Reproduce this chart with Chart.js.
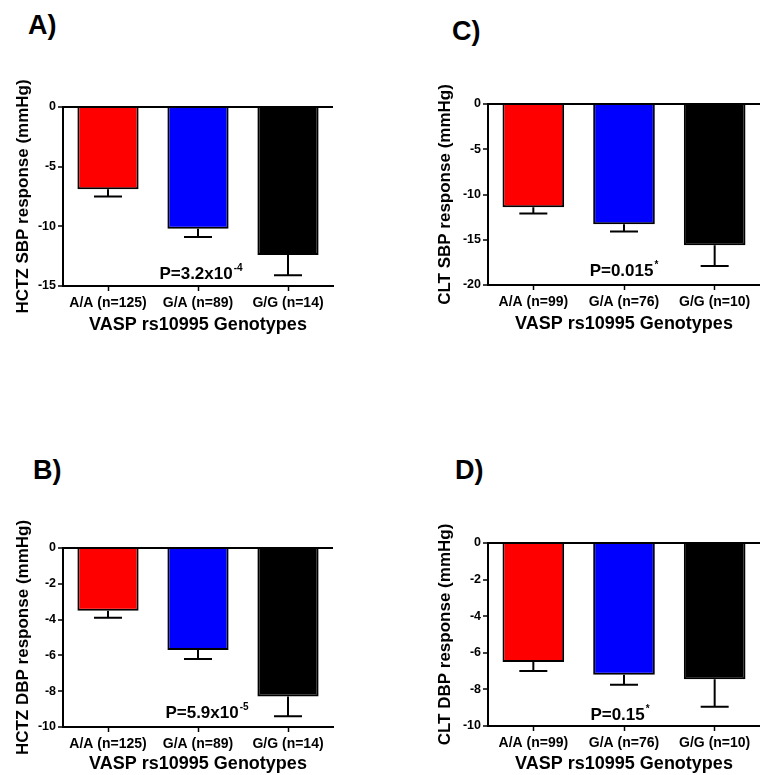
<!DOCTYPE html>
<html>
<head>
<meta charset="utf-8">
<script src="https://cdn.jsdelivr.net/npm/chart.js@4.4.0/dist/chart.umd.min.js"></script>
<style>
  body { margin: 0; background: #fff; }
  #wrap { position: relative; width: 760px; height: 775px; overflow: hidden; }
  .panel { position: absolute; }
  .letter { position: absolute; font: bold 27px "Liberation Sans", Arial, sans-serif; color: #000; line-height: 1; }
</style>
</head>
<body>
<div id="wrap">
  <div class="letter" style="left:28px; top:12px;">A)</div>
  <div class="letter" style="left:452px; top:18px;">C)</div>
  <div class="letter" style="left:33px; top:457px;">B)</div>
  <div class="letter" style="left:455px; top:457px;">D)</div>
  <div class="panel" style="left:0px; top:60px; width:380px; height:276px;"><canvas id="chartA"></canvas></div>
  <div class="panel" style="left:422px; top:60px; width:338px; height:275px;"><canvas id="chartC"></canvas></div>
  <div class="panel" style="left:0px; top:500px; width:380px; height:275px;"><canvas id="chartB"></canvas></div>
  <div class="panel" style="left:422px; top:500px; width:338px; height:275px;"><canvas id="chartD"></canvas></div>
</div>
<script>
// genotype groups
const hctzGroups = ['A/A (n=125)', 'G/A (n=89)', 'G/G (n=14)'];
const cltGroups = ['A/A (n=99)', 'G/A (n=76)', 'G/G (n=10)'];
const barColors = ['#ff0000', '#0000ff', '#000000'];

// mean responses (mmHg) and SEM
const hctzSbp = [-6.9, -10.2, -12.4];
const hctzSbpSem = [0.6, 0.7, 1.7];
const hctzDbp = [-3.5, -5.7, -8.3];
const hctzDbpSem = [0.4, 0.5, 1.1];
const cltSbp = [-11.4, -13.3, -15.6];
const cltSbpSem = [0.7, 0.8, 2.3];
const cltDbp = [-6.5, -7.2, -7.45];
const cltDbpSem = [0.5, 0.55, 1.5];

Chart.defaults.font.family = '"Liberation Sans", Arial, sans-serif';
Chart.defaults.font.weight = 'bold';
Chart.defaults.color = '#000';

// draws the one-sided error bars and the P value text
const extrasPlugin = {
  id: 'extras',
  afterDatasetsDraw(chart, args, opts) {
    const ctx = chart.ctx;
    const meta = chart.getDatasetMeta(0);
    const y = chart.scales.y;
    const vals = chart.data.datasets[0].data;
    ctx.save();
    ctx.strokeStyle = '#000';
    ctx.lineWidth = 2;
    meta.data.forEach((bar, i) => {
      const y0 = y.getPixelForValue(vals[i]);
      const y1 = y.getPixelForValue(vals[i] - opts.sem[i]);
      ctx.beginPath();
      ctx.moveTo(bar.x, y0);
      ctx.lineTo(bar.x, y1);
      ctx.moveTo(bar.x - 14, y1);
      ctx.lineTo(bar.x + 14, y1);
      ctx.stroke();
    });
    // P value label with superscript
    const px = chart.scales.x.getPixelForValue(1) + opts.pShift;
    const py = y.getPixelForValue(opts.pAt);
    ctx.fillStyle = '#000';
    ctx.textBaseline = 'alphabetic';
    ctx.font = 'bold 17px "Liberation Sans", Arial, sans-serif';
    const w1 = ctx.measureText(opts.pText).width;
    ctx.font = 'bold 10px "Liberation Sans", Arial, sans-serif';
    const w2 = ctx.measureText(opts.pSup).width;
    const sx = px - (w1 + w2 + 1) / 2;
    ctx.font = 'bold 17px "Liberation Sans", Arial, sans-serif';
    ctx.textAlign = 'left';
    ctx.fillText(opts.pText, sx, py);
    ctx.font = 'bold 10px "Liberation Sans", Arial, sans-serif';
    ctx.fillText(opts.pSup, sx + w1 + 1, py - 8);
    ctx.restore();
  }
};

function makePanel(id, p) {
  return new Chart(document.getElementById(id), {
    type: 'bar',
    data: {
      labels: p.labels,
      datasets: [{
        data: p.values,
        backgroundColor: barColors,
        borderColor: '#000',
        borderWidth: 2,
        borderSkipped: 'start',
        barPercentage: 0.68,
        categoryPercentage: 1
      }]
    },
    options: {
      responsive: true,
      maintainAspectRatio: false,
      animation: false,
      layout: { padding: { top: p.padTop, right: p.padRight, left: 0, bottom: 0 } },
      plugins: {
        legend: { display: false },
        tooltip: { enabled: false },
        extras: { sem: p.sem, pText: p.pText, pSup: p.pSup, pAt: p.pAt, pShift: p.pShift }
      },
      scales: {
        x: {
          afterFit: s => { s.height = p.xHeight; },
          grid: { offset: false, drawOnChartArea: false, color: '#000', tickColor: '#000', tickLength: 5, tickWidth: 1.5 },
          border: { color: '#000', width: 2 },
          ticks: { font: { size: 14, weight: 'bold' }, padding: 4, maxRotation: 0, autoSkip: false },
          title: { display: true, text: 'VASP rs10995 Genotypes', font: { size: 18, weight: 'bold' }, padding: { top: 0, bottom: 0 } }
        },
        y: {
          min: p.min,
          max: 0,
          afterFit: s => { s.width = p.yWidth; },
          grid: {
            color: c => (c.tick && c.tick.value === 0) ? '#000' : 'rgba(0,0,0,0)',
            lineWidth: 2,
            tickColor: '#000',
            tickLength: 5,
            tickWidth: 1.5
          },
          border: { color: '#000', width: 2 },
          ticks: { stepSize: p.step, font: { size: 12.5, weight: 'bold' }, padding: 2 },
          title: { display: true, text: p.yTitle, font: { size: 17, weight: 'bold' }, padding: { top: 13, bottom: 0 } }
        }
      }
    },
    plugins: [extrasPlugin]
  });
}

makePanel('chartA', {
  labels: hctzGroups, values: hctzSbp, sem: hctzSbpSem, min: -15, step: 5,
  yTitle: 'HCTZ SBP response (mmHg)', pText: 'P=3.2x10', pSup: '-4', pAt: -14.4, pShift: 3,
  padTop: 47, padRight: 47, yWidth: 63, xHeight: 50
});
makePanel('chartC', {
  labels: cltGroups, values: cltSbp, sem: cltSbpSem, min: -20, step: 5,
  yTitle: 'CLT SBP response (mmHg)', pText: 'P=0.015', pSup: '*', pAt: -19.0, pShift: 0,
  padTop: 44, padRight: 0, yWidth: 66, xHeight: 50
});
makePanel('chartB', {
  labels: hctzGroups, values: hctzDbp, sem: hctzDbpSem, min: -10, step: 2,
  yTitle: 'HCTZ DBP response (mmHg)', pText: 'P=5.9x10', pSup: '-5', pAt: -9.5, pShift: 9,
  padTop: 48, padRight: 47, yWidth: 63, xHeight: 48
});
makePanel('chartD', {
  labels: cltGroups, values: cltDbp, sem: cltDbpSem, min: -10, step: 2,
  yTitle: 'CLT DBP response (mmHg)', pText: 'P=0.15', pSup: '*', pAt: -9.67, pShift: -4,
  padTop: 43, padRight: 0, yWidth: 66, xHeight: 49
});
</script>
</body>
</html>
